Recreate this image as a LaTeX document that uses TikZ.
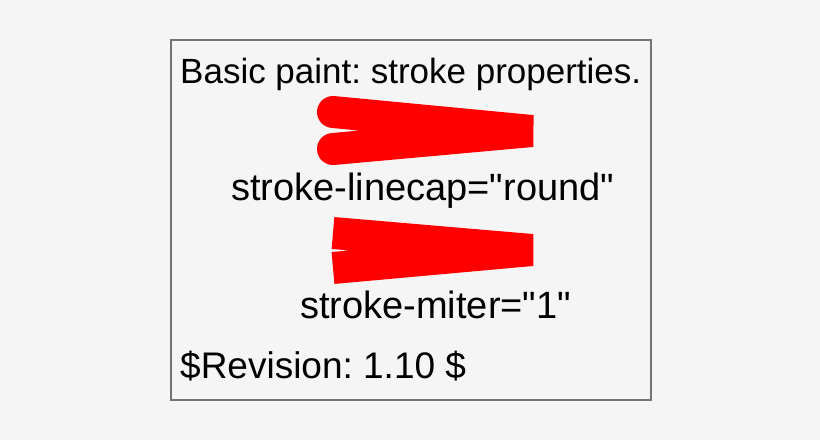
\documentclass[tikz,border=0pt]{standalone}
\usepackage{fontspec}
\setmainfont{Liberation Sans}
\frenchspacing
\begin{document}
\begin{tikzpicture}[x=1pt,y=-1pt,
  txt/.style={anchor=base west,inner sep=0pt},
  stk/.style={draw=red,line width=32pt,line join=bevel}]
\fill[black!4] (0,0) rectangle (820,440);
\useasboundingbox (0,0) rectangle (820,440);
\draw[gray!90!black,line width=1.2pt] (171,40) rectangle (651,400);
\node[txt,font=\fontsize{35}{40}\selectfont] (t) at (180,83) {Basic paint: stroke properties.};
\draw[stk,line cap=round] (333,112) -- (532,131) -- (333,149);
\node[txt,font=\fontsize{38}{44}\selectfont] (l1) at (231,200) {stroke-linecap=\textquotedbl round\textquotedbl};
\draw[stk,line cap=butt] (333,233) -- (532,250) -- (333,268);
\node[txt,font=\fontsize{38}{44}\selectfont] (l2) at (300,318) {stroke-miter=\textquotedbl 1\textquotedbl};
\node[txt,font=\fontsize{37}{42}\selectfont] (r) at (180,378) {\$Revision: 1.10 \$};
\end{tikzpicture}
\end{document}
